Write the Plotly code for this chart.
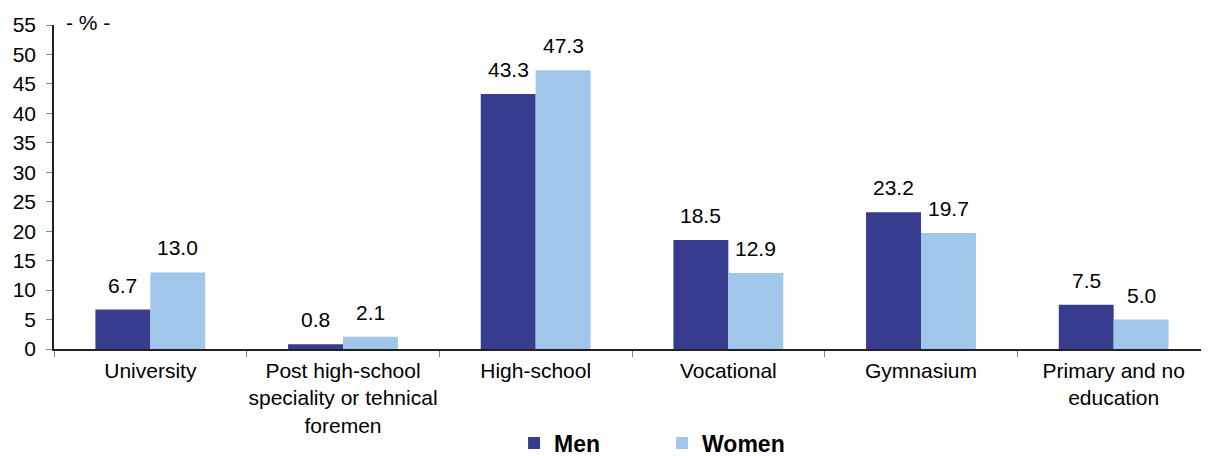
import plotly.graph_objects as go

categories = ["University", "Post high-school<br>speciality or tehnical<br>foremen", "High-school",
              "Vocational", "Gymnasium", "Primary and no<br>education"]
men = [6.7, 0.8, 43.3, 18.5, 23.2, 7.5]
women = [13.0, 2.1, 47.3, 12.9, 19.7, 5.0]
y_ticks = list(range(0, 56, 5))

MEN_C = "#373C8F"
WOMEN_C = "#A0C6E9"
FONT = "Liberation Sans, Arial, sans-serif"

fig = go.Figure()
fig.add_trace(go.Bar(name="Men", x=categories, y=men, marker_color=MEN_C,
                     marker_line_width=0, offsetgroup="m"))
fig.add_trace(go.Bar(name="Women", x=categories, y=women, marker_color=WOMEN_C,
                     marker_line_width=0, offsetgroup="w"))

annotations = []
for i, (m, w) in enumerate(zip(men, women)):
    for val, shift in ((m, -0.143), (w, 0.143)):
        annotations.append(dict(x=i + shift, y=val, xref="x", yref="y", text=f"{val:.1f}",
                                showarrow=False, yanchor="bottom", yshift=11,
                                font=dict(family=FONT, size=21, color="#000")))
annotations.append(dict(x=0.009, y=1.0, xref="paper", yref="paper", text="- % -",
                        showarrow=False, xanchor="left", yanchor="bottom", yshift=-11,
                        font=dict(family=FONT, size=21, color="#000")))

fig.update_layout(
    width=1209, height=456,
    margin=dict(l=46, r=7, t=17, b=115, autoexpand=False),
    plot_bgcolor="white", paper_bgcolor="white",
    barmode="group", bargap=0.43, bargroupgap=0,
    font=dict(family=FONT, size=21, color="#000"),
    showlegend=True,
    legend=dict(orientation="h", x=0.541, xanchor="center", xref="container",
                y=0.046, yanchor="middle", yref="container",
                font=dict(family=FONT, size=23, color="#000", weight="bold"),
                entrywidth=103, itemwidth=30, traceorder="normal"),
    annotations=annotations,
)
fig.update_xaxes(type="category", showline=True, linecolor="#222", linewidth=1.5,
                 ticks="outside", tickson="boundaries", ticklen=6, tickcolor="#888",
                 tickfont=dict(family=FONT, size=21, color="#000"), showgrid=False,
                 automargin=False, tickangle=0, ticklabelstandoff=2)
fig.update_yaxes(range=[0, 55], tickvals=y_ticks, showline=True, linecolor="#222", linewidth=1.5,
                 ticks="outside", ticklen=6, tickcolor="#888", showgrid=False, zeroline=False,
                 tickfont=dict(family=FONT, size=21, color="#000"), automargin=False,
                 ticklabelstandoff=6)

fig.write_html("out.html")
